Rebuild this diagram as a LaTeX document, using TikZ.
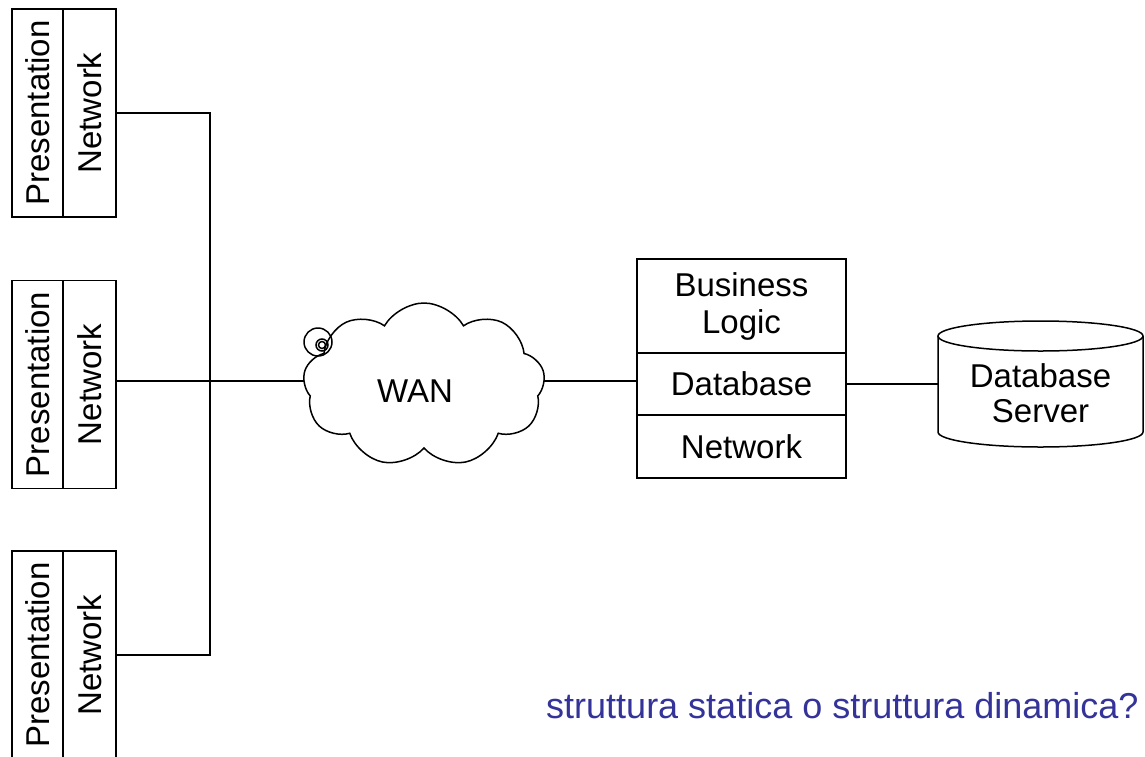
\documentclass[tikz,border=0pt]{standalone}
\usepackage{fontspec}
\setmainfont{Liberation Sans}
\usetikzlibrary{shapes.symbols,calc}
\definecolor{noteblue}{RGB}{51,51,153}
\begin{document}
\begin{tikzpicture}[x=1pt,y=-1pt,
  lbl/.style={font=\fontsize{33}{37}\selectfont},
  wire/.style={line width=1.5pt},
  layer/.style={draw, wire, inner sep=0pt, lbl, align=center},
  vlayer/.style={layer, rotate=90, minimum width=208pt}]
\useasboundingbox (0,0) rectangle (1145,756);

% client stacks (rotated layers)
\node[vlayer, minimum height=51pt] (pres1) at (37.5,113) {Presentation};
\node[vlayer, minimum height=53pt] (net1)  at (89.5,113) {Network};
\node[vlayer, minimum height=51pt] (pres2) at (37.5,384.5) {Presentation};
\node[vlayer, minimum height=53pt] (net2)  at (89.5,384.5) {Network};
\node[vlayer, minimum height=51pt] (pres3) at (37.5,655) {Presentation};
\node[vlayer, minimum height=53pt] (net3)  at (89.5,655) {Network};

% WAN cloud
\node[cloud, draw, wire, cloud puffs=9, cloud puff arc=120, aspect=1.5,
      minimum width=242pt, minimum height=164pt, inner sep=0pt] (wan) at (424,385) {};
\node[lbl, inner sep=0pt] (wanlbl) at (415,391) {WAN};
\draw[wire] (318,342) circle[radius=14pt];
\draw[wire] (322,345) circle[radius=6pt];
\draw[wire] (322,345) circle[radius=3.5pt];

% server stack
\node[layer, minimum width=209pt, minimum height=94pt] (bl)  at (741.5,306)   {Business\\Logic};
\node[layer, minimum width=209pt, minimum height=62pt] (dbl) at (741.5,384)   {Database};
\node[layer, minimum width=209pt, minimum height=63pt] (nl)  at (741.5,446.5) {Network};

% database server cylinder
\draw[wire] (1040.5,336) ellipse[x radius=102.5pt, y radius=15pt];
\draw[wire] (938,336) -- (938,432)
  arc[start angle=180, end angle=360, x radius=102.5pt, y radius=15pt] -- (1143,336);
\node[inner sep=0pt, align=center, font=\fontsize{33}{35}\selectfont] (dbs) at (1040.5,393) {Database\\Server};
\coordinate (dbsw) at (938,384);

% wiring
\coordinate (j1) at (210,113);
\coordinate (j2) at (210,381);
\coordinate (j3) at (210,655);
\draw[wire] (net1.south |- j1) -- (j1) -- (j3) -- (net3.south |- j3);
\draw[wire] (net2.south |- j2) -- (j2) -- (wan.west |- j2);
\draw[wire] (wan.east |- j2) -- (dbl.west |- j2);
\draw[wire] (dbl.east) -- (dbsw);

% note
\node[anchor=base west, inner sep=0pt, text=noteblue, font=\fontsize{36}{40}\selectfont] (note)
  at (546,718) {struttura statica o struttura dinamica?};
\end{tikzpicture}
\end{document}
